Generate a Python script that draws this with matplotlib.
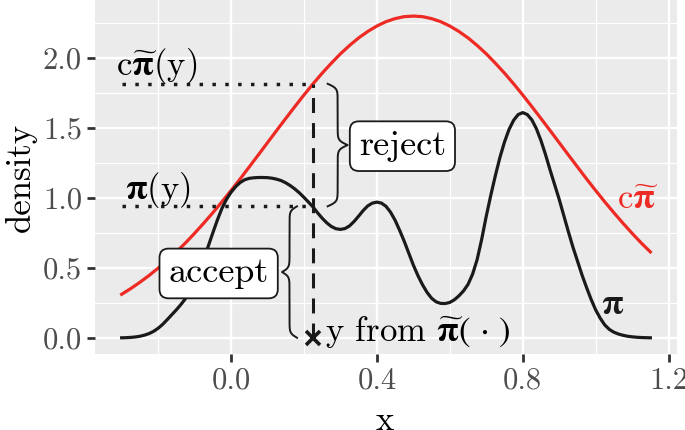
import matplotlib

matplotlib.use("Agg")

import matplotlib.pyplot as plt
import numpy as np


x_fine = [
    -0.3000, -0.2875, -0.2750, -0.2625, -0.2500, -0.2375, -0.2250, -0.2125, -0.2000, -0.1875,
    -0.1750, -0.1625, -0.1500, -0.1375, -0.1250, -0.1125, -0.1000, -0.0875, -0.0750, -0.0625,
    -0.0500, -0.0375, -0.0250, -0.0125, 0.0000, 0.0125, 0.0250, 0.0375, 0.0500, 0.0625,
    0.0750, 0.0875, 0.1000, 0.1125, 0.1250, 0.1375, 0.1500, 0.1625, 0.1750, 0.1875,
    0.2000, 0.2125, 0.2250, 0.2375, 0.2500, 0.2625, 0.2750, 0.2875, 0.3000, 0.3125,
    0.3250, 0.3375, 0.3500, 0.3625, 0.3750, 0.3875, 0.4000, 0.4125, 0.4250, 0.4375,
    0.4500, 0.4625, 0.4750, 0.4875, 0.5000, 0.5125, 0.5250, 0.5375, 0.5500, 0.5625,
    0.5750, 0.5875, 0.6000, 0.6125, 0.6250, 0.6375, 0.6500, 0.6625, 0.6750, 0.6875,
    0.7000, 0.7125, 0.7250, 0.7375, 0.7500, 0.7625, 0.7750, 0.7875, 0.8000, 0.8125,
    0.8250, 0.8375, 0.8500, 0.8625, 0.8750, 0.8875, 0.9000, 0.9125, 0.9250, 0.9375,
    0.9500, 0.9625, 0.9750, 0.9875, 1.0000, 1.0125, 1.0250, 1.0375, 1.0500, 1.0625,
    1.0750, 1.0875, 1.1000, 1.1125, 1.1250, 1.1375, 1.1500,
]

# target density pi
target_density = [
    0.000, 0.001, 0.003, 0.006, 0.011, 0.019, 0.030, 0.046, 0.068, 0.096,
    0.130, 0.165, 0.200, 0.238, 0.280, 0.335, 0.400, 0.477, 0.560, 0.655,
    0.750, 0.842, 0.925, 0.990, 1.040, 1.080, 1.110, 1.130, 1.140, 1.144,
    1.146, 1.146, 1.145, 1.141, 1.134, 1.124, 1.108, 1.088, 1.064, 1.036,
    1.004, 0.970, 0.935, 0.893, 0.855, 0.822, 0.796, 0.780, 0.775, 0.781,
    0.800, 0.832, 0.870, 0.910, 0.943, 0.963, 0.970, 0.963, 0.940, 0.898,
    0.840, 0.768, 0.690, 0.605, 0.520, 0.445, 0.380, 0.325, 0.283, 0.257,
    0.246, 0.245, 0.253, 0.272, 0.300, 0.335, 0.382, 0.455, 0.560, 0.705,
    0.870, 1.020, 1.160, 1.290, 1.400, 1.490, 1.555, 1.596, 1.610, 1.596,
    1.558, 1.495, 1.410, 1.310, 1.200, 1.095, 0.990, 0.875, 0.760, 0.650,
    0.550, 0.450, 0.360, 0.275, 0.200, 0.140, 0.092, 0.060, 0.040, 0.027,
    0.018, 0.011, 0.007, 0.004, 0.002, 0.001, 0.000,
]

# x grid for the envelope
x_vals = [
    -0.300, -0.275, -0.250, -0.225, -0.200, -0.175, -0.150, -0.125, -0.100, -0.075,
    -0.050, -0.025, 0.000, 0.025, 0.050, 0.075, 0.100, 0.125, 0.150, 0.175,
    0.200, 0.225, 0.250, 0.275, 0.300, 0.325, 0.350, 0.375, 0.400, 0.425,
    0.450, 0.475, 0.500, 0.525, 0.550, 0.575, 0.600, 0.625, 0.650, 0.675,
    0.700, 0.725, 0.750, 0.775, 0.800, 0.825, 0.850, 0.875, 0.900, 0.925,
    0.950, 0.975, 1.000, 1.025, 1.050, 1.075, 1.100, 1.125, 1.150,
]

# envelope c * pi_tilde
envelope_density = [
    0.311, 0.352, 0.397, 0.445, 0.498, 0.554, 0.614, 0.678, 0.747, 0.819,
    0.894, 0.972, 1.053, 1.136, 1.222, 1.308, 1.395, 1.482, 1.568, 1.653,
    1.736, 1.816, 1.892, 1.963, 2.030, 2.090, 2.144, 2.190, 2.229, 2.260,
    2.282, 2.296, 2.300, 2.296, 2.282, 2.260, 2.229, 2.190, 2.144, 2.090,
    2.030, 1.963, 1.892, 1.816, 1.736, 1.653, 1.568, 1.482, 1.395, 1.308,
    1.222, 1.136, 1.053, 0.972, 0.894, 0.819, 0.747, 0.678, 0.614,
]

# the single proposal draw y and the two heights at it
proposal_draw = 0.225
envelope_at_draw = 1.816
target_at_draw = 0.94

x_ticks = [0.0, 0.4, 0.8, 1.2]
x_tick_labels = ["0.0", "0.4", "0.8", "1.2"]
y_ticks = [0.0, 0.5, 1.0, 1.5, 2.0]
y_tick_labels = ["0.0", "0.5", "1.0", "1.5", "2.0"]

RED = "#EE2A24"
INK = "#1A1A1A"


def draw_brace(ax, x_end, y_lo, y_hi, width_px, direction, **kwargs):
    # curly brace built in pixel space so the curls keep their size
    trans = ax.transData
    px0, py0 = trans.transform((x_end, y_lo))
    _, py1 = trans.transform((x_end, y_hi))
    length = py1 - py0
    s = np.linspace(0, length / 2, 200)
    beta = 0.45
    half = 1 / (1 + np.exp(-beta * s)) + 1 / (1 + np.exp(-beta * (s - length / 2))) - 0.5
    offsets = np.concatenate([half, half[-2::-1]]) * width_px * direction
    ys = np.concatenate([s, length - s[-2::-1]]) + py0
    xs = px0 + offsets
    pts = trans.inverted().transform(np.column_stack([xs, ys]))
    ax.plot(pts[:, 0], pts[:, 1], **kwargs)


def main() -> None:
    plt.rcParams["font.family"] = ["cmr10", "DejaVu Serif"]
    plt.rcParams["mathtext.fontset"] = "cm"
    plt.rcParams["axes.unicode_minus"] = False
    plt.rcParams["axes.formatter.use_mathtext"] = True

    fig = plt.figure(figsize=(6.85, 4.30), dpi=100)
    fig.subplots_adjust(left=0.139, right=0.988, bottom=0.177, top=1.0)
    ax = fig.add_subplot(111)

    ax.set_facecolor("#EBEBEB")
    for spine in ax.spines.values():
        spine.set_visible(False)

    ax.set_xlim(-0.3725, 1.2225)
    ax.set_ylim(-0.115, 2.415)

    ax.set_xticks(x_ticks)
    ax.set_xticklabels(x_tick_labels)
    ax.set_yticks(y_ticks)
    ax.set_yticklabels(y_tick_labels)
    ax.set_xticks([-0.2, 0.2, 0.6, 1.0], minor=True)
    ax.set_yticks([0.25, 0.75, 1.25, 1.75, 2.25], minor=True)
    ax.tick_params(which="major", length=5.5, width=2, color="#333333",
                   labelsize=22, labelcolor="#4D4D4D", pad=4)
    ax.tick_params(which="minor", length=0)
    ax.grid(which="major", color="white", linewidth=1.7)
    ax.grid(which="minor", color="white", linewidth=0.9)
    ax.set_axisbelow(True)

    ax.plot(x_vals, envelope_density, color=RED, linewidth=2.3, zorder=3)
    ax.plot(x_fine, target_density, color=INK, linewidth=2.3, zorder=3)

    # dotted guides to the two heights
    x_start = x_vals[0]
    for level in [envelope_at_draw, target_at_draw]:
        ax.plot([x_start, proposal_draw], [level, level], color=INK,
                linewidth=2.5, dashes=(1, 2.7), dash_capstyle="butt", zorder=4)

    # dashed vertical at the draw and the draw marker
    ax.plot([proposal_draw, proposal_draw], [0, envelope_at_draw], color=INK,
            linewidth=2.2, dashes=(4.9, 3.3), zorder=4)
    ax.plot([proposal_draw], [0], marker="x", markersize=10, markeredgewidth=2.6,
            color=INK, zorder=5)

    # braces
    draw_brace(ax, proposal_draw + 0.04, target_at_draw, envelope_at_draw, 20, 1,
               color=INK, linewidth=1.4, zorder=4)
    draw_brace(ax, proposal_draw - 0.044, 0, target_at_draw, 15, -1,
               color=INK, linewidth=1.4, zorder=4)

    box = dict(boxstyle="round,pad=0.25,rounding_size=0.25", facecolor="white",
               edgecolor=INK, linewidth=1.3)
    ax.text(0.47, 1.37, "reject", fontsize=26, ha="center", va="center",
            bbox=box, zorder=6)
    ax.text(-0.034, 0.46, "accept", fontsize=26, ha="center", va="center",
            bbox=box, zorder=6)

    pi_tilde = r"$\widetilde{\mathbf{\pi}}$"
    pi_bold = r"$\mathbf{\pi}$"
    ax.text(-0.315, 1.94, "c" + pi_tilde + "(y)", fontsize=25,
            math_fontfamily="stix", ha="left", va="center", zorder=6)
    ax.text(-0.292, 1.06, pi_bold + "(y)", fontsize=25,
            math_fontfamily="stix", ha="left", va="center", zorder=6)
    ax.text(0.258, 0.04, "y from " + pi_tilde + r"$(\,\cdot\,)$", fontsize=25,
            math_fontfamily="stix", ha="left", va="center", zorder=6)
    ax.text(1.115, 0.985, "c" + pi_tilde, fontsize=25, color=RED,
            math_fontfamily="stix", ha="center", va="center", zorder=6)
    ax.text(1.047, 0.235, pi_bold, fontsize=25, color=INK,
            math_fontfamily="stix", ha="center", va="center", zorder=6)

    ax.set_xlabel("x", fontsize=25, va="center")
    ax.set_ylabel("density", fontsize=25, va="center")
    ax.xaxis.set_label_coords(0.498, -0.19)
    ax.yaxis.set_label_coords(-0.128, 0.5)

    fig.savefig("out.png", dpi=100)
    plt.close(fig)


if __name__ == "__main__":
    main()
